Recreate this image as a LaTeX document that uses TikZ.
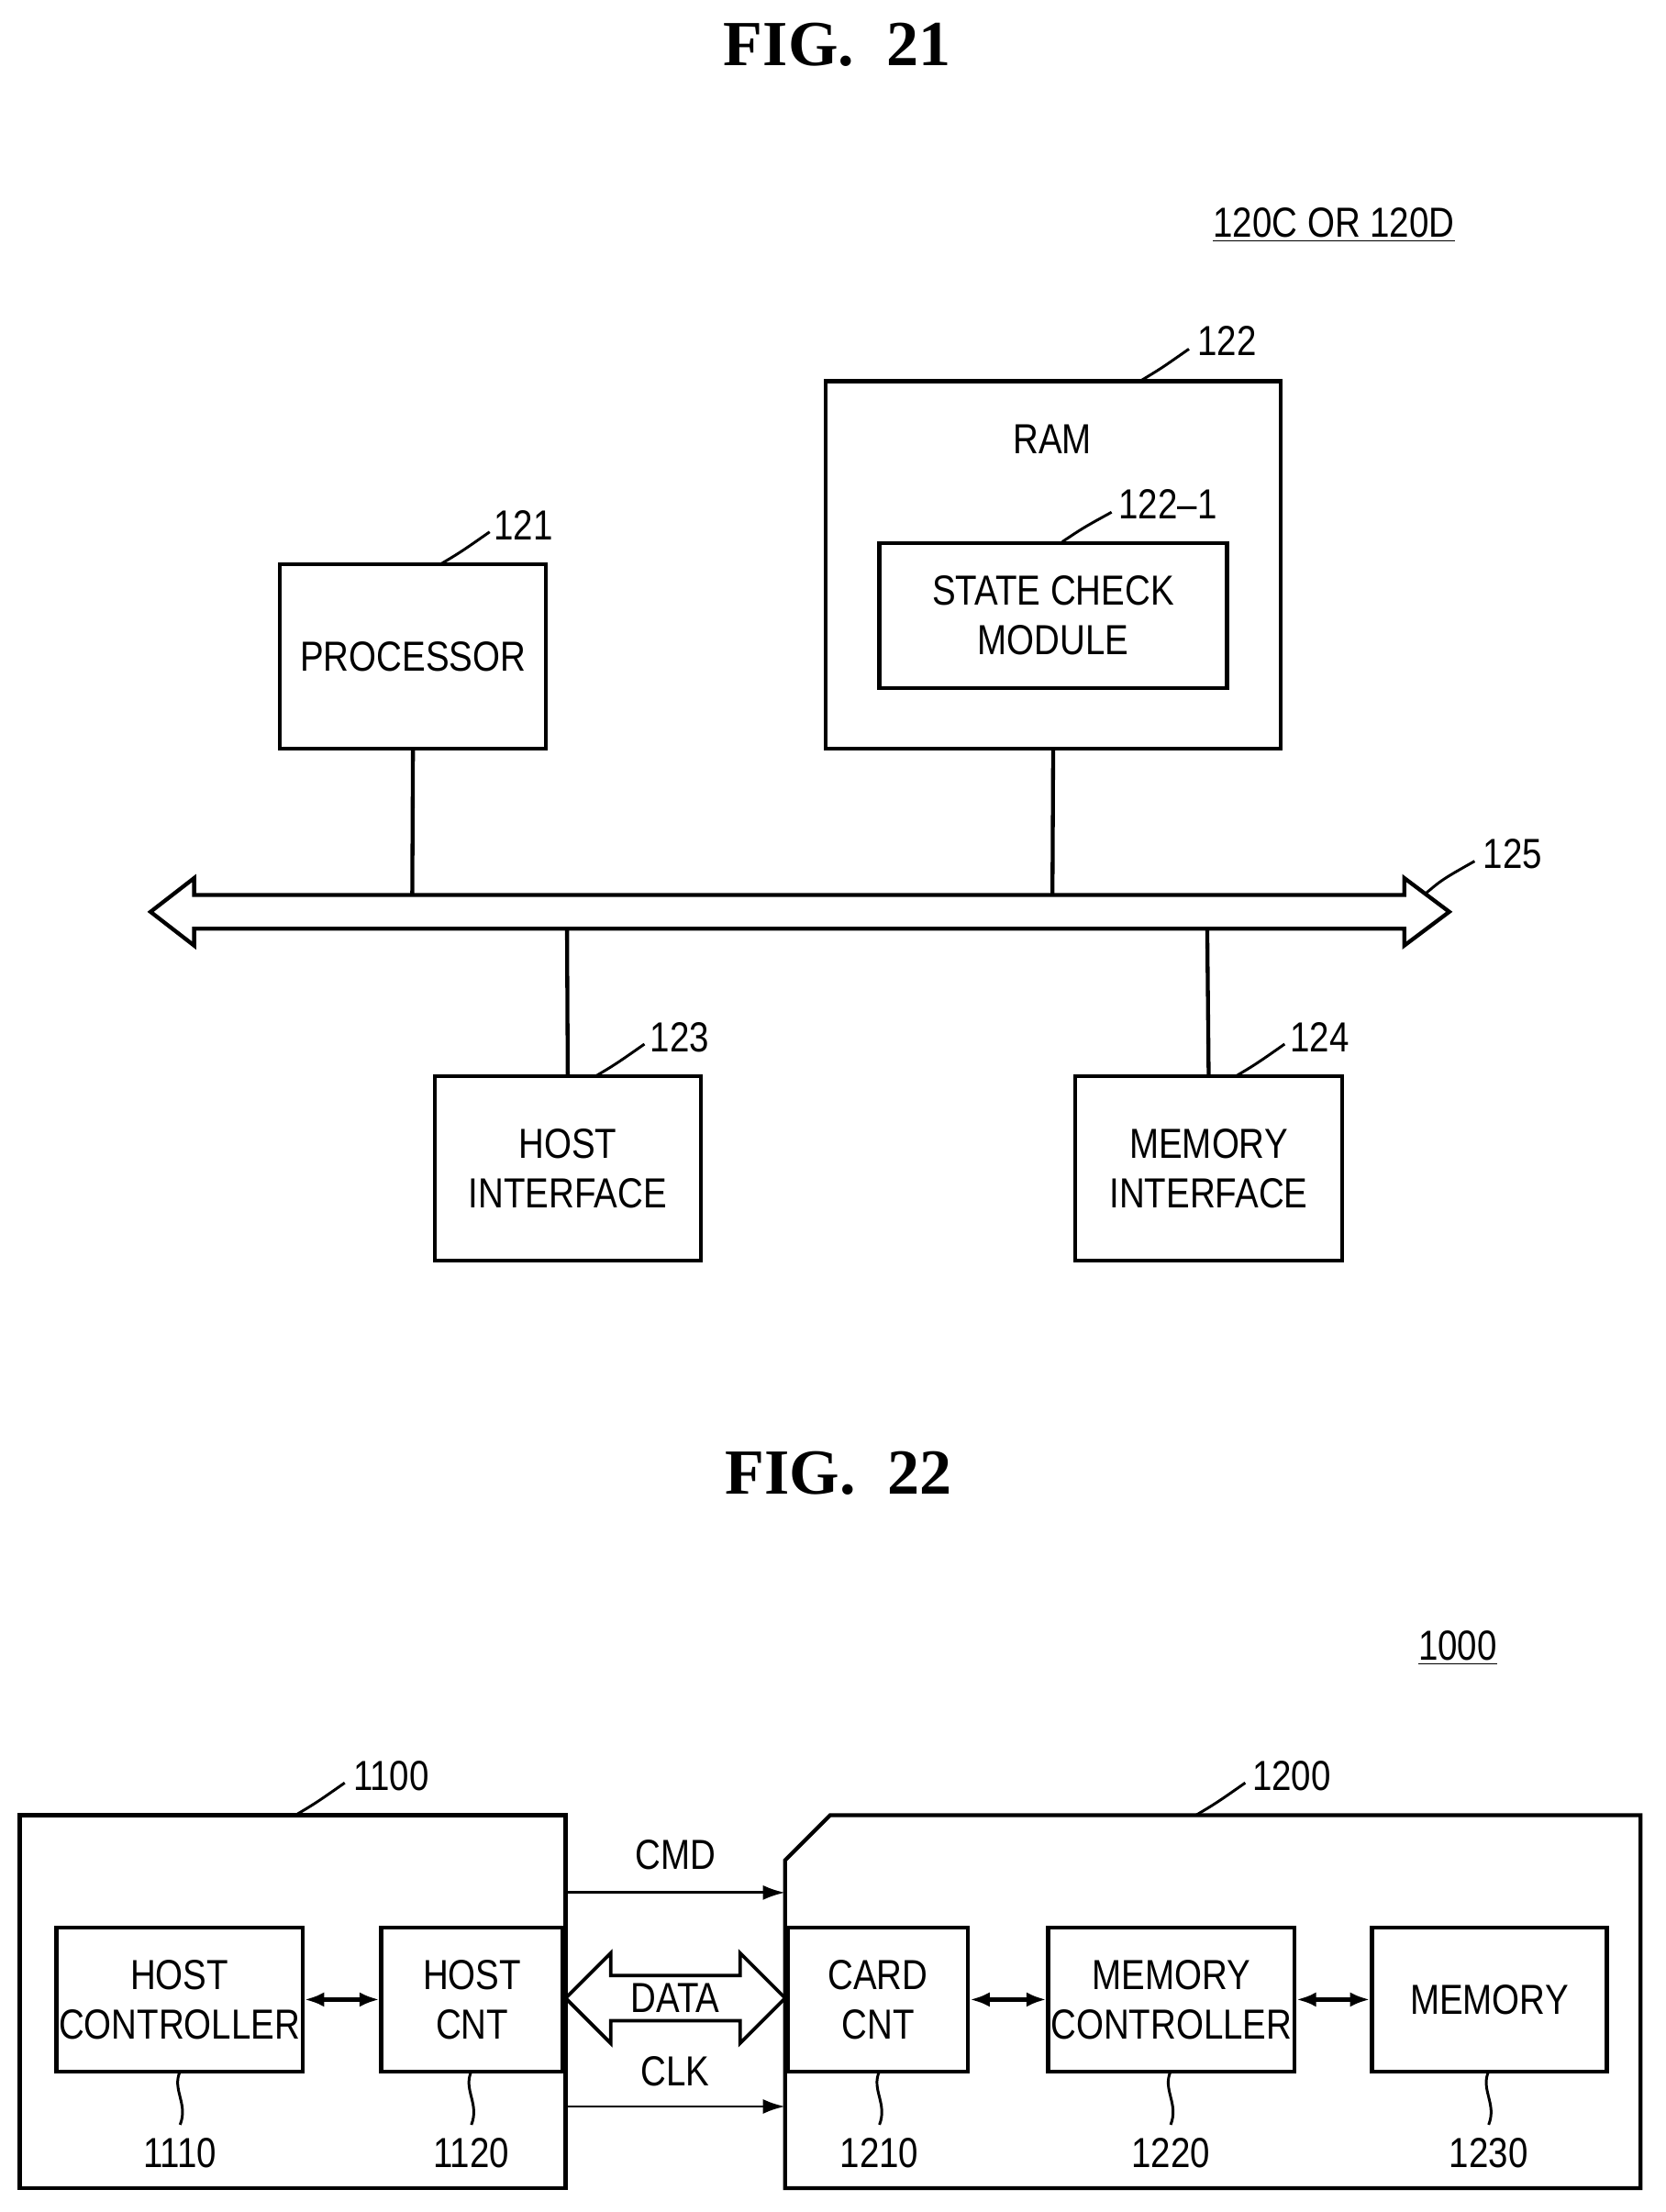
\documentclass[tikz,border=0pt]{standalone}
\usepackage{fontspec}
\setmainfont[FakeStretch=0.84]{Liberation Sans}
\newfontfamily\figfont{Liberation Serif}
\usetikzlibrary{arrows.meta,positioning}
\begin{document}
\begin{tikzpicture}[x=0.02cm,y=-0.02cm,line width=1.6pt,
  box/.style = {draw, rectangle, align=center, inner sep=0pt, font=\fontsize{17}{20}\selectfont},
  num/.style = {font=\fontsize{17}{20}\selectfont},
  lead/.style = {line width=1.1pt},
  small/.style = {{Latex[length=8pt,width=6pt]}-{Latex[length=8pt,width=6pt]}, line width=1.6pt}]
\useasboundingbox (0,0) rectangle (1184,1572);
% FIG. 21
\node (t21) at (595,32) {\fontsize{26}{30}\selectfont\bfseries\figfont FIG.\ \ 21};
\node[num] (ref21) at (948,160) {\underline{120C OR 120D}};
\node[box, minimum width=323*0.02cm, minimum height=261*0.02cm] (ram) at (748.5,401.5) {};
\node[num] (ramtxt) at (748,312) {RAM};
\node[box, minimum width=247*0.02cm, minimum height=103*0.02cm] (scm) at (748.5,437.5) {STATE CHECK\\MODULE};
\node[box, minimum width=189*0.02cm, minimum height=131*0.02cm] (proc) at (293.5,466.5) {PROCESSOR};
\node[box, minimum width=189*0.02cm, minimum height=131*0.02cm] (hif) at (403.5,830.5) {HOST\\INTERFACE};
\node[box, minimum width=190*0.02cm, minimum height=131*0.02cm] (mif) at (859,830.5) {MEMORY\\INTERFACE};
\node[num] (l122) at (872,242) {122};
\node[num] (l1221) at (830,358) {122\textendash1};
\node[num] (l121) at (372,373) {121};
\node[num] (l125) at (1075,607) {125};
\node[num] (l123) at (483,737) {123};
\node[num] (l124) at (938,737) {124};
\draw[lead] (810,271) .. controls (825,262) .. (845,248);
\draw[lead] (755,385) .. controls (770,375) .. (790,364);
\draw[lead] (313,401) .. controls (328,392) .. (348,378);
\draw[lead] (423,765) .. controls (438,756) .. (458,742);
\draw[lead] (878,765) .. controls (893,756) .. (913,742);
\draw[lead] (1012,636) .. controls (1025,625) .. (1048,612);
% bus
\draw[line width=1.6pt] (107,648) -- (138,624) -- (138,636) -- (998,636) -- (998,624) -- (1030,648)
  -- (998,672) -- (998,660) -- (138,660) -- (138,672) -- cycle;
\coordinate (b1) at (293,636); \coordinate (b2) at (748,636);
\coordinate (b3) at (403,660); \coordinate (b4) at (858,660);
\draw (proc.south) -- (b1);
\draw (ram.south) -- (b2);
\draw (hif.north) -- (b3);
\draw (mif.north) -- (b4);
% FIG. 22
\node (t22) at (596,1047) {\fontsize{26}{30}\selectfont\bfseries\figfont FIG.\ \ 22};
\node[num] (ref22) at (1036,1171) {\underline{1000}};
\node[box, minimum width=388*0.02cm, minimum height=265*0.02cm] (host) at (208,1422.5) {};
\draw (558,1322) -- (590,1290) -- (1166,1290) -- (1166,1555) -- (558,1555) -- cycle;
\coordinate (card) at (862,1290);
\node[box, minimum width=175*0.02cm, minimum height=102*0.02cm] (hc) at (127.5,1421) {HOST\\CONTROLLER};
\node[box, minimum width=129*0.02cm, minimum height=102*0.02cm] (hcnt) at (335.5,1421) {HOST\\CNT};
\node[box, minimum width=128*0.02cm, minimum height=102*0.02cm] (ccnt) at (624,1421) {CARD\\CNT};
\node[box, minimum width=175*0.02cm, minimum height=102*0.02cm] (mc) at (832.5,1421) {MEMORY\\CONTROLLER};
\node[box, minimum width=167*0.02cm, minimum height=102*0.02cm] (mem) at (1058.5,1421) {MEMORY};
\draw[small] (hc) -- (hcnt);
\draw[small] (ccnt) -- (mc);
\draw[small] (mc) -- (mem);
\node[num] (l1100) at (278,1262) {1100};
\node[num] (l1200) at (918,1262) {1200};
\draw[lead] (210,1290) .. controls (225,1281) .. (245,1267);
\draw[lead] (850,1290) .. controls (865,1281) .. (885,1267);
\foreach \n/\x in {1110/128,1120/335,1210/625,1220/832,1230/1058}{
  \node[num] (l\n) at (\x,1530) {\n};
  \draw[lead] (\x,1472) .. controls (\x-6,1485) and (\x+6,1495) .. (\x,1510);
}
% links
\coordinate (cmda) at (402,1345); \coordinate (cmdb) at (558,1345);
\coordinate (clka) at (402,1497); \coordinate (clkb) at (558,1497);
\draw[-{Latex[length=9pt,width=6pt]}, line width=1.1pt] (cmda) -- (cmdb);
\draw[-{Latex[length=9pt,width=6pt]}, line width=1.1pt] (clka) -- (clkb);
\node[num] (cmd) at (480,1318) {CMD};
\node[num] (clk) at (480,1472) {CLK};
\draw[line width=1.4pt] (402,1420) -- (434,1388) -- (434,1404) -- (526,1404) -- (526,1388) -- (558,1420)
  -- (526,1452) -- (526,1436) -- (434,1436) -- (434,1452) -- cycle;
\node[num] (data) at (480,1420) {DATA};
\end{tikzpicture}
\end{document}
